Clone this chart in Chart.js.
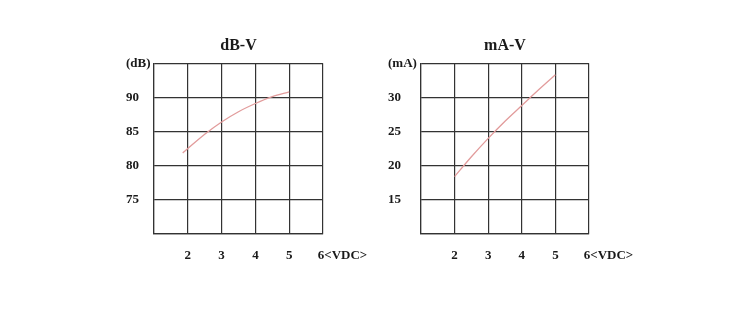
<!DOCTYPE html>
<html>
<head>
<meta charset="utf-8">
<script src="https://cdn.jsdelivr.net/npm/chart.js@4"></script>
<style>
  body { margin:0; background:#fff; }
  .box { position:absolute; top:0; height:324px; }
</style>
</head>
<body>
<div class="box" style="left:0;width:400px"><canvas id="dbChart" width="400" height="324"></canvas></div>
<div class="box" style="left:375px;width:375px"><canvas id="maChart" width="375" height="324"></canvas></div>
<script>
// values
const dbVolts = [1.85, 2, 2.5, 3, 3.5, 4, 4.5, 5];
const dbLevels = [81.85, 82.5, 84.6, 86.4, 87.9, 89.1, 90.1, 90.8];
const maVolts = [2, 2.5, 3, 3.5, 4, 4.5, 5];
const maCurrents = [18.4, 21.3, 24, 26.5, 28.8, 31.1, 33.3];

// tick labels, bottom->top and left->right
const dbTickLabels = ["", "75", "80", "85", "90", "(dB)"];
const maTickLabels = ["", "15", "20", "25", "30", "(mA)"];
const voltTickLabels = ["", "2", "3", "4", "5", "6<VDC>"];

const gridColor = "#333";
const textColor = "#1a1a1a";
const lineColor = "#e29c9c";
const serif = "'Liberation Serif', 'DejaVu Serif', serif";

function makeChart(id, title, xs, ys, yMin, yLabels, padLeft, yWidth, padRight){
    const pts = xs.map((x,i)=>({x:x, y:ys[i]}));
    return new Chart(document.getElementById(id), {
        type:"line",
        data:{ datasets:[{
            data:pts,
            borderColor:lineColor,
            borderWidth:1.3,
            pointRadius:0,
            cubicInterpolationMode:"monotone",
            fill:false
        }]},
        options:{
            responsive:false,
            animation:false,
            devicePixelRatio:1,
            layout:{ padding:{left:padLeft, right:padRight, top:0, bottom:50} },
            plugins:{
                legend:{display:false},
                tooltip:{enabled:false},
                title:{
                    display:true,
                    text:title,
                    fullSize:false,
                    color:textColor,
                    font:{family:serif, size:16, weight:"bold"},
                    padding:{top:36, bottom:8}
                }
            },
            scales:{
                x:{
                    type:"linear",
                    min:1, max:6,
                    ticks:{
                        stepSize:1,
                        autoSkip:false,
                        padding:14,
                        maxRotation:0,
                        color:textColor,
                        font:{family:serif, size:13, weight:"bold"},
                        callback:(v,i)=>{
                            const lbl = voltTickLabels[i] || "";
                            return i===voltTickLabels.length-1 ? " ".repeat(12)+lbl : lbl;
                        }
                    },
                    grid:{color:gridColor, lineWidth:1.2, drawTicks:false},
                    border:{color:gridColor, width:1.2},
                    afterFit:s=>{ s.height = 40; }
                },
                y:{
                    min:yMin, max:yMin+25,
                    ticks:{
                        stepSize:5,
                        autoSkip:false,
                        crossAlign:"far",
                        color:textColor,
                        font:{family:serif, size:13, weight:"bold"},
                        callback:(v,i)=>yLabels[i]
                    },
                    grid:{color:gridColor, lineWidth:1.2, drawTicks:false},
                    border:{color:gridColor, width:1.2},
                    afterFit:s=>{ s.width = yWidth; }
                }
            }
        }
    });
}

makeChart("dbChart", "dB-V", dbVolts, dbLevels, 70, dbTickLabels, 126, 28, 77);
makeChart("maChart", "mA-V", maVolts, maCurrents, 10, maTickLabels, 13, 33, 161);
</script>
</body>
</html>
